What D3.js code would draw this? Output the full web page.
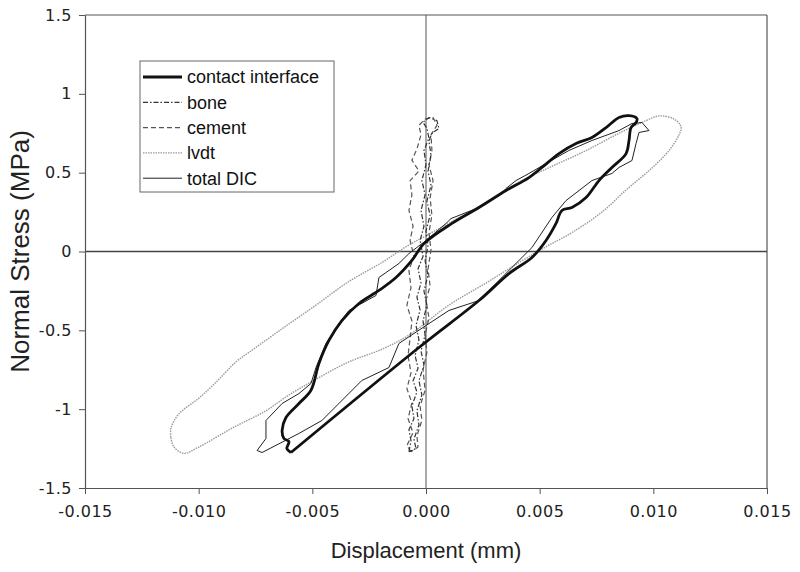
<!DOCTYPE html>
<html>
<head>
<meta charset="utf-8">
<script src="https://cdn.jsdelivr.net/npm/d3@7"></script>
<style>
  body { margin: 0; background: #fff; }
  .tick text { font-family: "DejaVu Sans", Verdana, sans-serif; font-size: 16px; fill: #222; }
  .title { font-family: "Liberation Sans", Arial, sans-serif; font-size: 22px; fill: #222; }
  .leg { font-family: "Liberation Sans", Arial, sans-serif; font-size: 18px; fill: #111; }
</style>
</head>
<body>
<svg id="chart" width="800" height="572"></svg>
<script>
// displacement (mm), normal stress (MPa)
let contactInterface = [
  [-0.00594, -1.275], [-0.00031, -0.609], [0.00233, -0.311], [0.00365, -0.14], [0.00466, -0.038],
  [0.00528, 0.07], [0.00572, 0.178], [0.00598, 0.26], [0.00642, 0.279], [0.00704, 0.342],
  [0.00761, 0.45], [0.00818, 0.533], [0.0088, 0.621], [0.00893, 0.704], [0.00902, 0.786],
  [0.00924, 0.818], [0.00928, 0.843], [0.00893, 0.862], [0.00849, 0.85], [0.00792, 0.786],
  [0.0073, 0.723], [0.0066, 0.685], [0.00585, 0.621], [0.0051, 0.533], [0.00453, 0.469],
  [0.00352, 0.387], [0.00233, 0.279], [0.00114, 0.178], [-0.00009, 0.05], [-0.00062, -0.057],
  [-0.00132, -0.165], [-0.00207, -0.247], [-0.00295, -0.33], [-0.0037, -0.438], [-0.00427, -0.564],
  [-0.00471, -0.71], [-0.00506, -0.88], [-0.00559, -0.964], [-0.00616, -1.053], [-0.00633, -1.135],
  [-0.00625, -1.186], [-0.00603, -1.205], [-0.00612, -1.25], [-0.00594, -1.275]
];
let totalDIC = [
  [-0.00743, -1.262], [-0.00721, -1.275], [-0.00559, -1.154], [-0.00458, -1.072], [-0.00282, -0.818],
  [-0.00163, -0.736], [-0.00119, -0.583], [0.00013, -0.457], [0.00101, -0.374], [0.00233, -0.311],
  [0.00378, -0.101], [0.00466, 0.025], [0.00554, 0.216], [0.00616, 0.323], [0.0073, 0.45],
  [0.00818, 0.495], [0.00849, 0.533], [0.00906, 0.577], [0.00924, 0.685], [0.00937, 0.755],
  [0.00981, 0.767], [0.0095, 0.818], [0.00906, 0.812], [0.00849, 0.767], [0.0073, 0.704],
  [0.00629, 0.641], [0.00528, 0.558], [0.00453, 0.495], [0.00396, 0.45], [0.00352, 0.4],
  [0.00334, 0.368], [0.00233, 0.279], [0.0011, 0.209], [0.00088, 0.178], [0, 0.07],
  [-0.00075, -0.013], [-0.00119, -0.076], [-0.00207, -0.165], [-0.0022, -0.279], [-0.00339, -0.374],
  [-0.00383, -0.457], [-0.0044, -0.583], [-0.00484, -0.736], [-0.00506, -0.837], [-0.00559, -0.901],
  [-0.00633, -0.964], [-0.00704, -1.072], [-0.00704, -1.186], [-0.00743, -1.262]
];
let lvdt = [
  [-0.01122, -1.18], [-0.01109, -1.24], [-0.01065, -1.28], [-0.00999, -1.24], [-0.00853, -1.12],
  [-0.00704, -1.01], [-0.00603, -0.91], [-0.00484, -0.81], [-0.00339, -0.70], [-0.00194, -0.62],
  [-0.00075, -0.53], [0.00101, -0.34], [0.00264, -0.20], [0.00409, -0.07], [0.00528, 0.03],
  [0.00642, 0.12], [0.00774, 0.25], [0.0088, 0.39], [0.00994, 0.53], [0.01069, 0.64],
  [0.01113, 0.74], [0.01122, 0.79], [0.01091, 0.84], [0.01025, 0.86], [0.00968, 0.83],
  [0.00849, 0.75], [0.00704, 0.64], [0.00554, 0.54], [0.00409, 0.44], [0.00264, 0.31],
  [0.00101, 0.18], [0, 0.10], [-0.00088, 0.03], [-0.00194, -0.07], [-0.00339, -0.19],
  [-0.00484, -0.34], [-0.00633, -0.49], [-0.00779, -0.64], [-0.00836, -0.70], [-0.00924, -0.83],
  [-0.00999, -0.93], [-0.01087, -1.03], [-0.01122, -1.12], [-0.01122, -1.18]
];
let bone = [
  [-0.00075, -1.27], [-0.00066, -1.20], [-0.00075, -1.13], [-0.00053, -1.06], [-0.00062, -0.98],
  [-0.0004, -0.89], [-0.00057, -0.82], [-0.00035, -0.74], [-0.00048, -0.66], [-0.00031, -0.56],
  [-0.00044, -0.47], [-0.00026, -0.37], [-0.0004, -0.29], [-0.00022, -0.20], [-0.00035, -0.11],
  [-0.00013, -0.03], [-0.00026, 0.07], [-0.00009, 0.16], [-0.00022, 0.26], [-0.00004, 0.36],
  [-0.00018, 0.45], [0, 0.55], [-0.00009, 0.64], [0.00013, 0.72], [0.00004, 0.78],
  [-0.00013, 0.82], [0.00013, 0.85], [0.00048, 0.83], [0.00057, 0.78], [0.00026, 0.75],
  [0.00013, 0.70], [0.00022, 0.61], [0.00009, 0.51], [0.00022, 0.42], [0.00004, 0.32],
  [0.00018, 0.23], [0, 0.13], [0.00009, 0.04], [-0.00004, -0.06], [0.00009, -0.15],
  [-0.00009, -0.25], [0.00004, -0.34], [-0.00013, -0.44], [-0.00004, -0.53], [-0.00022, -0.63],
  [-0.00009, -0.72], [-0.00031, -0.82], [-0.00018, -0.91], [-0.0004, -1.01], [-0.00031, -1.10],
  [-0.00053, -1.19], [-0.00044, -1.25], [-0.00075, -1.27]
];
let cement = [
  [-0.00066, -1.27], [-0.00084, -1.23], [-0.00057, -1.15], [-0.00079, -1.06], [-0.00062, -0.96],
  [-0.00084, -0.87], [-0.00066, -0.77], [-0.00079, -0.66], [-0.0007, -0.55], [-0.00062, -0.44],
  [-0.00084, -0.34], [-0.00066, -0.23], [-0.00075, -0.12], [-0.00053, -0.03], [-0.0007, 0.07],
  [-0.00057, 0.16], [-0.00075, 0.26], [-0.00062, 0.36], [-0.0007, 0.45], [-0.00031, 0.51],
  [-0.00062, 0.58], [-0.0004, 0.65], [-0.00022, 0.74], [-0.00031, 0.80], [-0.00004, 0.84],
  [0.00031, 0.85], [0.00048, 0.80], [0.00022, 0.74], [0.00026, 0.64], [0.00013, 0.55],
  [0.00031, 0.45], [0.00018, 0.34], [0.00026, 0.23], [0.00013, 0.12], [0.00022, 0.01],
  [0.00009, -0.11], [0.00018, -0.22], [0, -0.31], [0.00013, -0.42], [-0.00004, -0.53],
  [0.00004, -0.64], [-0.00013, -0.75], [-0.00004, -0.88], [-0.00026, -0.98], [-0.00018, -1.07],
  [-0.0004, -1.17], [-0.00035, -1.24], [-0.00066, -1.27]
];
let xTicks = [-0.015, -0.010, -0.005, 0.000, 0.005, 0.010, 0.015];
let yTicks = [-1.5, -1, -0.5, 0, 0.5, 1, 1.5];
let seriesNames = ["contact interface", "bone", "cement", "lvdt", "total DIC"];

let svg = d3.select("#chart"),
    margin = { top: 15, right: 33, bottom: 84, left: 85 },
    width = +svg.attr("width") - margin.left - margin.right,
    height = +svg.attr("height") - margin.top - margin.bottom,
    g = svg.append("g").attr("transform", "translate(" + margin.left + "," + margin.top + ")");

let x = d3.scaleLinear().domain([-0.015, 0.015]).range([0, width]);
let y = d3.scaleLinear().domain([-1.5, 1.5]).range([height, 0]);

let styles = {
  "contact interface": { color: "#111", w: 2.8, dash: null, data: contactInterface, curve: d3.curveCatmullRom },
  "bone": { color: "#333", w: 1.2, dash: "5,2,1.5,2", data: bone, curve: d3.curveLinear },
  "cement": { color: "#555", w: 1.2, dash: "5,3", data: cement, curve: d3.curveLinear },
  "lvdt": { color: "#9a9a9a", w: 1.4, dash: "1.5,1", data: lvdt, curve: d3.curveCatmullRom },
  "total DIC": { color: "#222", w: 1, dash: null, data: totalDIC, curve: d3.curveLinear }
};

// plot frame: top and right border, zero lines
g.append("line").attr("x1", 0).attr("x2", width).attr("y1", 0).attr("y2", 0)
  .attr("stroke", "#555").attr("stroke-width", 1.2);
g.append("line").attr("x1", width).attr("x2", width).attr("y1", 0).attr("y2", height)
  .attr("stroke", "#555").attr("stroke-width", 1.2);
g.append("line").attr("x1", 0).attr("x2", width).attr("y1", y(0)).attr("y2", y(0))
  .attr("stroke", "#444").attr("stroke-width", 1.3);
g.append("line").attr("x1", x(0)).attr("x2", x(0)).attr("y1", 0).attr("y2", height)
  .attr("stroke", "#555").attr("stroke-width", 1);

// axes
let xAxis = g.append("g")
    .attr("transform", "translate(0," + height + ")")
    .call(d3.axisBottom(x).tickValues(xTicks).tickFormat(d3.format(".3f")).tickSize(6).tickSizeOuter(0));
xAxis.selectAll(".tick text").attr("dy", "1.25em").text(function(d) { return d3.format(".3f")(d).replace("−", "-"); });

let yAxis = g.append("g")
    .call(d3.axisLeft(y).tickValues(yTicks).tickFormat(function(d) { return String(d); }).tickSize(6).tickSizeOuter(0));
yAxis.selectAll(".tick text").attr("x", -13);

svg.selectAll(".domain").attr("stroke", "#555").attr("stroke-width", 1.2);
svg.selectAll(".tick line").attr("stroke", "#555");
svg.selectAll(".tick text").style("letter-spacing", "0.5px");

// series
let line = d3.line().x(function(d) { return x(d[0]); }).y(function(d) { return y(d[1]); });
["lvdt", "cement", "bone", "total DIC", "contact interface"].forEach(function(k) {
  let s = styles[k];
  g.append("path")
    .datum(s.data)
    .attr("fill", "none")
    .attr("stroke", s.color)
    .attr("stroke-width", s.w)
    .attr("stroke-dasharray", s.dash)
    .attr("stroke-linejoin", "round")
    .attr("d", line.curve(s.curve));
});

// axis titles
svg.append("text").attr("class", "title")
  .attr("x", margin.left + width / 2).attr("y", 558)
  .attr("text-anchor", "middle").text("Displacement (mm)");
svg.append("text").attr("class", "title")
  .style("font-size", "26px")
  .attr("transform", "translate(29," + (margin.top + y(0)) + ") rotate(-90)")
  .attr("text-anchor", "middle").text("Normal Stress (MPa)");

// legend
let legend = svg.append("g").attr("transform", "translate(140,61)");
legend.append("rect").attr("width", 194).attr("height", 131)
  .attr("fill", "#fff").attr("stroke", "#666").attr("stroke-width", 1);
let item = legend.selectAll("g.item")
  .data(seriesNames)
  .enter().append("g").attr("class", "item")
  .attr("transform", function(d, i) { return "translate(0," + (16 + i * 25.3) + ")"; });
item.append("line").attr("x1", 3).attr("x2", 42).attr("y1", 0).attr("y2", 0)
  .attr("stroke", function(d) { return styles[d].color; })
  .attr("stroke-width", function(d) { return styles[d].w; })
  .attr("stroke-dasharray", function(d) { return styles[d].dash; });
item.append("text").attr("class", "leg").attr("x", 47).attr("dy", "0.35em")
  .text(function(d) { return d; });
</script>
</body>
</html>
